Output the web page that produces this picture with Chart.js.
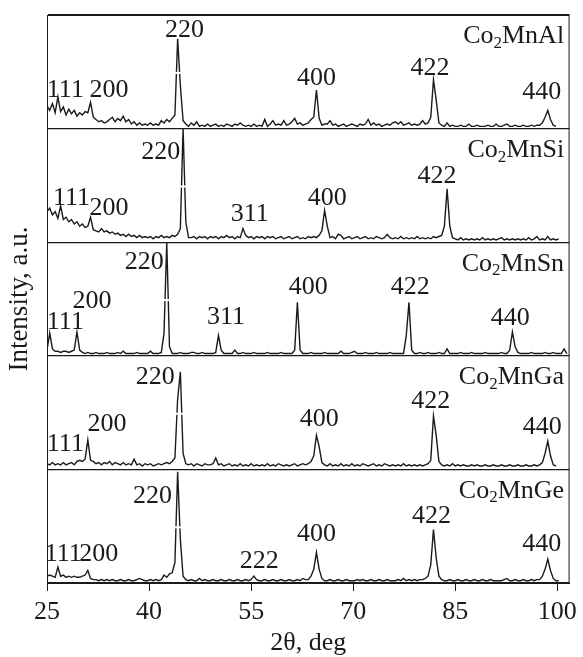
<!DOCTYPE html>
<html>
<head>
<meta charset="utf-8">
<title>XRD Co2MnZ</title>
<script src="https://cdn.jsdelivr.net/npm/chart.js@4.4.1/dist/chart.umd.min.js"></script>
<style>
  html, body { margin: 0; padding: 0; background: #fff; }
  canvas { display: block; }
</style>
</head>
<body>
<canvas id="grafico" width="583" height="657"></canvas>
<script>
// Ângulos 2θ (graus) em que as intensidades foram lidas
const twoTheta = [
  25, 25.4, 25.8, 26.2, 26.6, 27, 27.4, 27.8, 28.2, 28.6,
  29, 29.4, 29.8, 30.2, 30.6, 31, 31.4, 31.8, 32.2, 32.6,
  33, 33.4, 33.8, 34.2, 34.6, 35, 35.4, 35.8, 36.2, 36.6,
  37, 37.4, 37.8, 38.2, 38.6, 39, 39.4, 39.8, 40.2, 40.6,
  41, 41.4, 41.8, 42.2, 42.6, 43, 43.4, 43.8, 44.2, 44.6,
  45, 45.4, 45.8, 46.2, 46.6, 47, 47.4, 47.8, 48.2, 48.6,
  49, 49.4, 49.8, 50.2, 50.6, 51, 51.4, 51.8, 52.2, 52.6,
  53, 53.4, 53.8, 54.2, 54.6, 55, 55.4, 55.8, 56.2, 56.6,
  57, 57.4, 57.8, 58.2, 58.6, 59, 59.4, 59.8, 60.2, 60.6,
  61, 61.4, 61.8, 62.2, 62.6, 63, 63.4, 63.8, 64.2, 64.6,
  65, 65.4, 65.8, 66.2, 66.6, 67, 67.4, 67.8, 68.2, 68.6,
  69, 69.4, 69.8, 70.2, 70.6, 71, 71.4, 71.8, 72.2, 72.6,
  73, 73.4, 73.8, 74.2, 74.6, 75, 75.4, 75.8, 76.2, 76.6,
  77, 77.4, 77.8, 78.2, 78.6, 79, 79.4, 79.8, 80.2, 80.6,
  81, 81.4, 81.8, 82.2, 82.6, 83, 83.4, 83.8, 84.2, 84.6,
  85, 85.4, 85.8, 86.2, 86.6, 87, 87.4, 87.8, 88.2, 88.6,
  89, 89.4, 89.8, 90.2, 90.6, 91, 91.4, 91.8, 92.2, 92.6,
  93, 93.4, 93.8, 94.2, 94.6, 95, 95.4, 95.8, 96.2, 96.6,
  97, 97.4, 97.8, 98.2, 98.6, 99, 99.4, 99.8, 100.2, 100.6,
  101, 101.4, 101.8
];

// Marcas do eixo 2θ
const xTicks = [25, 40, 55, 70, 85, 100];

// Amostras, de cima para baixo (Co2Mn + elemento)
const elements = ['Al', 'Si', 'Sn', 'Ga', 'Ge'];

// Intensidades em % da altura de cada painel (null = sem medida)
const coMnAl = [
  20, 16, 22, 14, 28, 15, 19, 12, 17, 13,
  16, 11, 14, 12, 15, 14, 23, 10, 8, 6,
  7, 5, 6, 8, 10, 6, 9, 7, 11, 6,
  8, 4, 6, 3, 5, 3, 4, 3, 5, 3,
  4, 3, 7, 5, 8, 6, 9, 12, 79, 38,
  7, 4, 2, 5, 3, 6, 2, 3, 2, 4,
  2, 3, 4, 2, 3, 2, 4, 3, 2, 4,
  3, 5, 3, 2, 3, 2, 4, 2, 3, 2,
  8, 2, 4, 7, 3, 4, 3, 7, 3, 4,
  6, 9, 4, 5, 3, 4, 5, 8, 10, 34,
  9, 3, 4, 4, 7, 3, 4, 2, 3, 4,
  2, 3, 4, 3, 2, 4, 3, 4, 8, 3,
  5, 3, 4, 2, 3, 4, 3, 5, 6, 4,
  6, 3, 4, 5, 3, 4, 3, 4, 7, 4,
  5, 10, 43, 25, 5, 3, 2, 5, 2, 3,
  2, 2, 3, 2, 2, 4, 2, 2, 3, 2,
  2, 2, 3, 2, 2, 4, 2, 2, 3, 4,
  2, 2, 3, 2, 2, 3, 2, 2, 3, 2,
  3, 3, 5, 10, 16, 8, 3, 2, null, null,
  null, null, null
];
const coMnSi = [
  27, 30, 24, 27, 21, 32, 20, 22, 18, 20,
  16, 18, 14, 16, 13, 14, 22, 11, 10, 9,
  12, 9, 10, 8, 9, 7, 8, 6, 7, 5,
  7, 5, 6, 4, 6, 4, 5, 4, 5, 3,
  5, 4, 6, 4, 5, 4, 6, 5, 7, 12,
  100, 18, 4, 4, 5, 3, 5, 4, 5, 3,
  5, 4, 5, 3, 5, 4, 6, 4, 5, 3,
  5, 4, 12, 6, 4, 5, 3, 5, 4, 5,
  3, 5, 4, 5, 3, 4, 5, 3, 4, 5,
  3, 4, 5, 3, 4, 3, 5, 4, 5, 4,
  6, 10, 28, 14, 4, 5, 3, 7, 6, 3,
  4, 5, 3, 4, 5, 3, 4, 5, 3, 4,
  3, 5, 4, 3, 4, 7, 4, 3, 4, 3,
  5, 3, 4, 3, 4, 3, 5, 3, 4, 3,
  4, 3, 5, 4, 5, 6, 14, 47, 14, 4,
  3, 2, 4, 2, 3, 2, 3, 2, 3, 2,
  4, 2, 3, 2, 3, 2, 3, 4, 2, 3,
  2, 3, 2, 3, 2, 3, 2, 4, 2, 3,
  5, 2, 3, 2, 5, 2, 3, 2, 3, null,
  null, null, null
];
const coMnSn = [
  5, 20, 6, 4, 4, 3, 4, 4, 3, 4,
  5, 21, 5, 3, 2, 3, 2, 2, 3, 2,
  2, 2, 3, 2, 2, 2, 3, 2, 4, 2,
  2, 2, 2, 3, 2, 2, 2, 2, 4, 2,
  2, 2, 3, 20, 100, 8, 2, 2, 2, 3,
  2, 2, 2, 3, 3, 2, 2, 3, 2, 2,
  2, 2, 3, 18, 5, 2, 2, 2, 2, 5,
  2, 2, 3, 2, 2, 2, 3, 2, 2, 2,
  2, 3, 2, 2, 2, 2, 3, 2, 2, 2,
  2, 5, 47, 5, 2, 2, 2, 3, 2, 2,
  2, 2, 3, 2, 2, 2, 2, 2, 4, 2,
  2, 2, 3, 4, 2, 2, 2, 3, 2, 2,
  2, 3, 2, 2, 2, 2, 3, 2, 2, 2,
  2, 2, 18, 47, 5, 2, 2, 3, 2, 2,
  3, 2, 2, 2, 3, 2, 2, 6, 2, 2,
  2, 2, 3, 2, 2, 2, 3, 2, 2, 2,
  2, 3, 2, 2, 2, 2, 2, 3, 2, 2,
  5, 21, 8, 3, 2, 2, 2, 2, 3, 2,
  2, 2, 2, 3, 2, 2, 3, 2, 2, 2,
  6, 2, null
];
const coMnGa = [
  5, 4, 6, 4, 5, 4, 6, 4, 5, 6,
  4, 7, 8, 7, 9, 26, 8, 7, 5, 6,
  4, 6, 5, 7, 4, 6, 5, 4, 6, 4,
  5, 4, 9, 4, 5, 3, 5, 4, 5, 3,
  4, 5, 4, 5, 6, 5, 7, 10, 62, 86,
  14, 5, 4, 5, 3, 5, 4, 3, 5, 4,
  4, 5, 10, 4, 5, 3, 4, 5, 3, 4,
  3, 5, 3, 4, 3, 5, 3, 4, 3, 4,
  3, 5, 3, 4, 3, 5, 4, 3, 4, 3,
  4, 5, 3, 4, 5, 4, 5, 7, 12, 30,
  20, 6, 4, 3, 5, 3, 4, 3, 5, 3,
  4, 3, 5, 3, 4, 3, 5, 4, 3, 4,
  5, 3, 4, 3, 5, 4, 3, 4, 3, 4,
  3, 5, 3, 4, 3, 4, 3, 4, 3, 4,
  5, 8, 47, 30, 7, 4, 3, 4, 3, 5,
  3, 4, 3, 4, 3, 3, 4, 3, 4, 3,
  3, 4, 3, 3, 4, 3, 3, 4, 3, 3,
  4, 3, 3, 4, 3, 3, 4, 3, 3, 4,
  3, 4, 6, 14, 25, 12, 4, 3, null, null,
  null, null, null
];
const coMnGe = [
  6, 7, 6, 5, 14, 6, 7, 5, 6, 5,
  6, 5, 5, 6, 7, 11, 4, 3, 3, 2,
  3, 2, 3, 2, 3, 2, 2, 3, 2, 2,
  3, 2, 2, 3, 4, 3, 2, 2, 3, 2,
  3, 2, 3, 7, 5, 8, 9, 18, 98, 38,
  6, 3, 2, 3, 2, 2, 4, 2, 3, 2,
  2, 3, 2, 2, 3, 2, 2, 3, 2, 2,
  3, 2, 2, 3, 2, 3, 6, 3, 2, 2,
  3, 2, 2, 3, 2, 2, 3, 2, 2, 3,
  2, 2, 3, 2, 4, 3, 3, 6, 12, 27,
  12, 4, 2, 2, 3, 2, 2, 3, 2, 2,
  3, 2, 2, 2, 3, 2, 3, 2, 2, 3,
  2, 2, 3, 2, 2, 3, 2, 2, 2, 3,
  2, 4, 2, 3, 2, 3, 2, 3, 3, 4,
  6, 16, 47, 22, 6, 3, 2, 2, 3, 2,
  2, 3, 2, 2, 3, 2, 2, 3, 2, 2,
  3, 2, 2, 3, 2, 2, 2, 2, 3, 4,
  2, 2, 3, 2, 2, 3, 2, 2, 3, 2,
  3, 3, 6, 12, 21, 11, 4, 2, 2, null,
  null, null, null
];

// Índices de Miller: [texto, 2θ, altura em % do painel]
const alPeaks = [['111', 27.7, 34], ['200', 34.1, 34], ['220', 45.2, 87], ['400', 64.6, 44], ['422', 81.3, 53], ['440', 97.7, 32]];
const siPeaks = [['111', 28.6, 39], ['200', 34.1, 30], ['220', 41.7, 79], ['311', 54.8, 25], ['400', 66.2, 39], ['422', 82.3, 58]];
const snPeaks = [['111', 27.7, 30], ['200', 31.6, 48], ['220', 39.3, 82], ['311', 51.3, 34], ['400', 63.4, 60], ['422', 78.4, 60], ['440', 93.1, 33]];
const gaPeaks = [['111', 27.7, 22], ['200', 33.8, 40], ['220', 40.9, 81], ['400', 65.0, 44], ['422', 81.4, 60], ['440', 97.8, 37]];
const gePeaks = [['111', 27.4, 25], ['200', 32.6, 25], ['220', 40.5, 76], ['222', 56.2, 19], ['400', 64.6, 43], ['422', 81.5, 59], ['440', 97.7, 34]];

// Altura (%) do pequeno corte branco no pico 220
const breakLevel = 49;

const series = [coMnAl, coMnSi, coMnSn, coMnGa, coMnGe];
const peaks = [alPeaks, siPeaks, snPeaks, gaPeaks, gePeaks];

const FAMILY = '"Liberation Serif", "Times New Roman", serif';
const INK = '#1a1a1a';

// Cada painel ocupa uma unidade do eixo y (o de cima é 4..5)
function toPoints(values, panel) {
  const base = series.length - 1 - panel;
  return twoTheta.map((t, i) => ({ x: t, y: values[i] === null ? null : base + values[i] / 100 }));
}

// Moldura, corte do pico 220, índices dos picos e nomes das amostras
const xrdText = {
  id: 'xrdText',
  afterDatasetsDraw(chart) {
    const { ctx, chartArea: a, scales: { x, y } } = chart;
    ctx.save();

    // corte branco na linha do pico mais alto de cada painel
    ctx.fillStyle = '#fff';
    series.forEach((values, p) => {
      const base = series.length - 1 - p;
      const top = values.indexOf(Math.max(...values.filter(v => v !== null)));
      const px = x.getPixelForValue(twoTheta[top]);
      const py = y.getPixelForValue(base + breakLevel / 100);
      ctx.fillRect(px - 6, py - 1, 12, 2);
    });

    ctx.strokeStyle = INK;
    ctx.lineWidth = 1;
    ctx.strokeRect(a.left + 0.5, a.top + 0.5, a.right - a.left - 1, a.bottom - a.top - 1);

    ctx.fillStyle = INK;
    ctx.textBaseline = 'middle';
    ctx.textAlign = 'center';
    ctx.font = '26px ' + FAMILY;
    peaks.forEach((list, p) => {
      const base = series.length - 1 - p;
      list.forEach(([txt, t, h]) => {
        ctx.fillText(txt, x.getPixelForValue(t), y.getPixelForValue(base + h / 100));
      });
    });

    // Co₂Mn... alinhado à direita
    ctx.textAlign = 'left';
    elements.forEach((el, p) => {
      const base = series.length - 1 - p;
      const py = y.getPixelForValue(base + 0.81);
      const right = x.getPixelForValue(101);
      ctx.font = '26px ' + FAMILY;
      const w1 = ctx.measureText('Co').width;
      const w3 = ctx.measureText('Mn' + el).width;
      ctx.font = '17px ' + FAMILY;
      const w2 = ctx.measureText('2').width;
      let px = right - (w1 + w2 + w3);
      ctx.font = '26px ' + FAMILY;
      ctx.fillText('Co', px, py);
      px += w1;
      ctx.font = '17px ' + FAMILY;
      ctx.fillText('2', px, py + 7);
      px += w2;
      ctx.font = '26px ' + FAMILY;
      ctx.fillText('Mn' + el, px, py);
    });
    ctx.restore();
  }
};

const ctx = document.getElementById('grafico').getContext('2d');
new Chart(ctx, {
  type: 'line',
  data: {
    datasets: series.map((values, p) => ({
      label: 'Co2Mn' + elements[p],
      data: toPoints(values, p),
      borderColor: INK,
      borderWidth: 1.4,
      pointRadius: 0,
      tension: 0,
      spanGaps: false
    }))
  },
  options: {
    responsive: false,
    animation: false,
    devicePixelRatio: 1,
    layout: { padding: { top: 15, right: 8, left: 0, bottom: 0 } },
    plugins: { legend: { display: false }, tooltip: { enabled: false } },
    scales: {
      x: {
        type: 'linear',
        min: 25,
        max: 101.8,
        afterBuildTicks: s => { s.ticks = xTicks.map(v => ({ value: v })); },
        afterFit: s => { s.height = 74; },
        border: { display: true, color: INK, width: 1 },
        grid: { drawOnChartArea: false, drawTicks: true, tickLength: 8, color: INK },
        ticks: { color: INK, padding: 6, maxRotation: 0, font: { family: FAMILY, size: 26 } },
        title: {
          display: true, text: '2θ, deg', color: INK,
          font: { family: FAMILY, size: 26, lineHeight: 1.1 }, padding: { top: 0, bottom: 0 }
        }
      },
      y: {
        type: 'linear',
        min: 0,
        max: 5,
        ticks: { display: false, stepSize: 1 },
        afterFit: s => { s.width = 47; },
        border: { display: true, color: INK, width: 1 },
        grid: { drawTicks: false, color: INK, lineWidth: 1.2 },
        title: {
          display: true, text: 'Intensity, a.u.', color: INK,
          font: { family: FAMILY, size: 27 }, padding: { top: 4, bottom: 0 }
        }
      }
    }
  },
  plugins: [xrdText]
});
</script>
</body>
</html>
